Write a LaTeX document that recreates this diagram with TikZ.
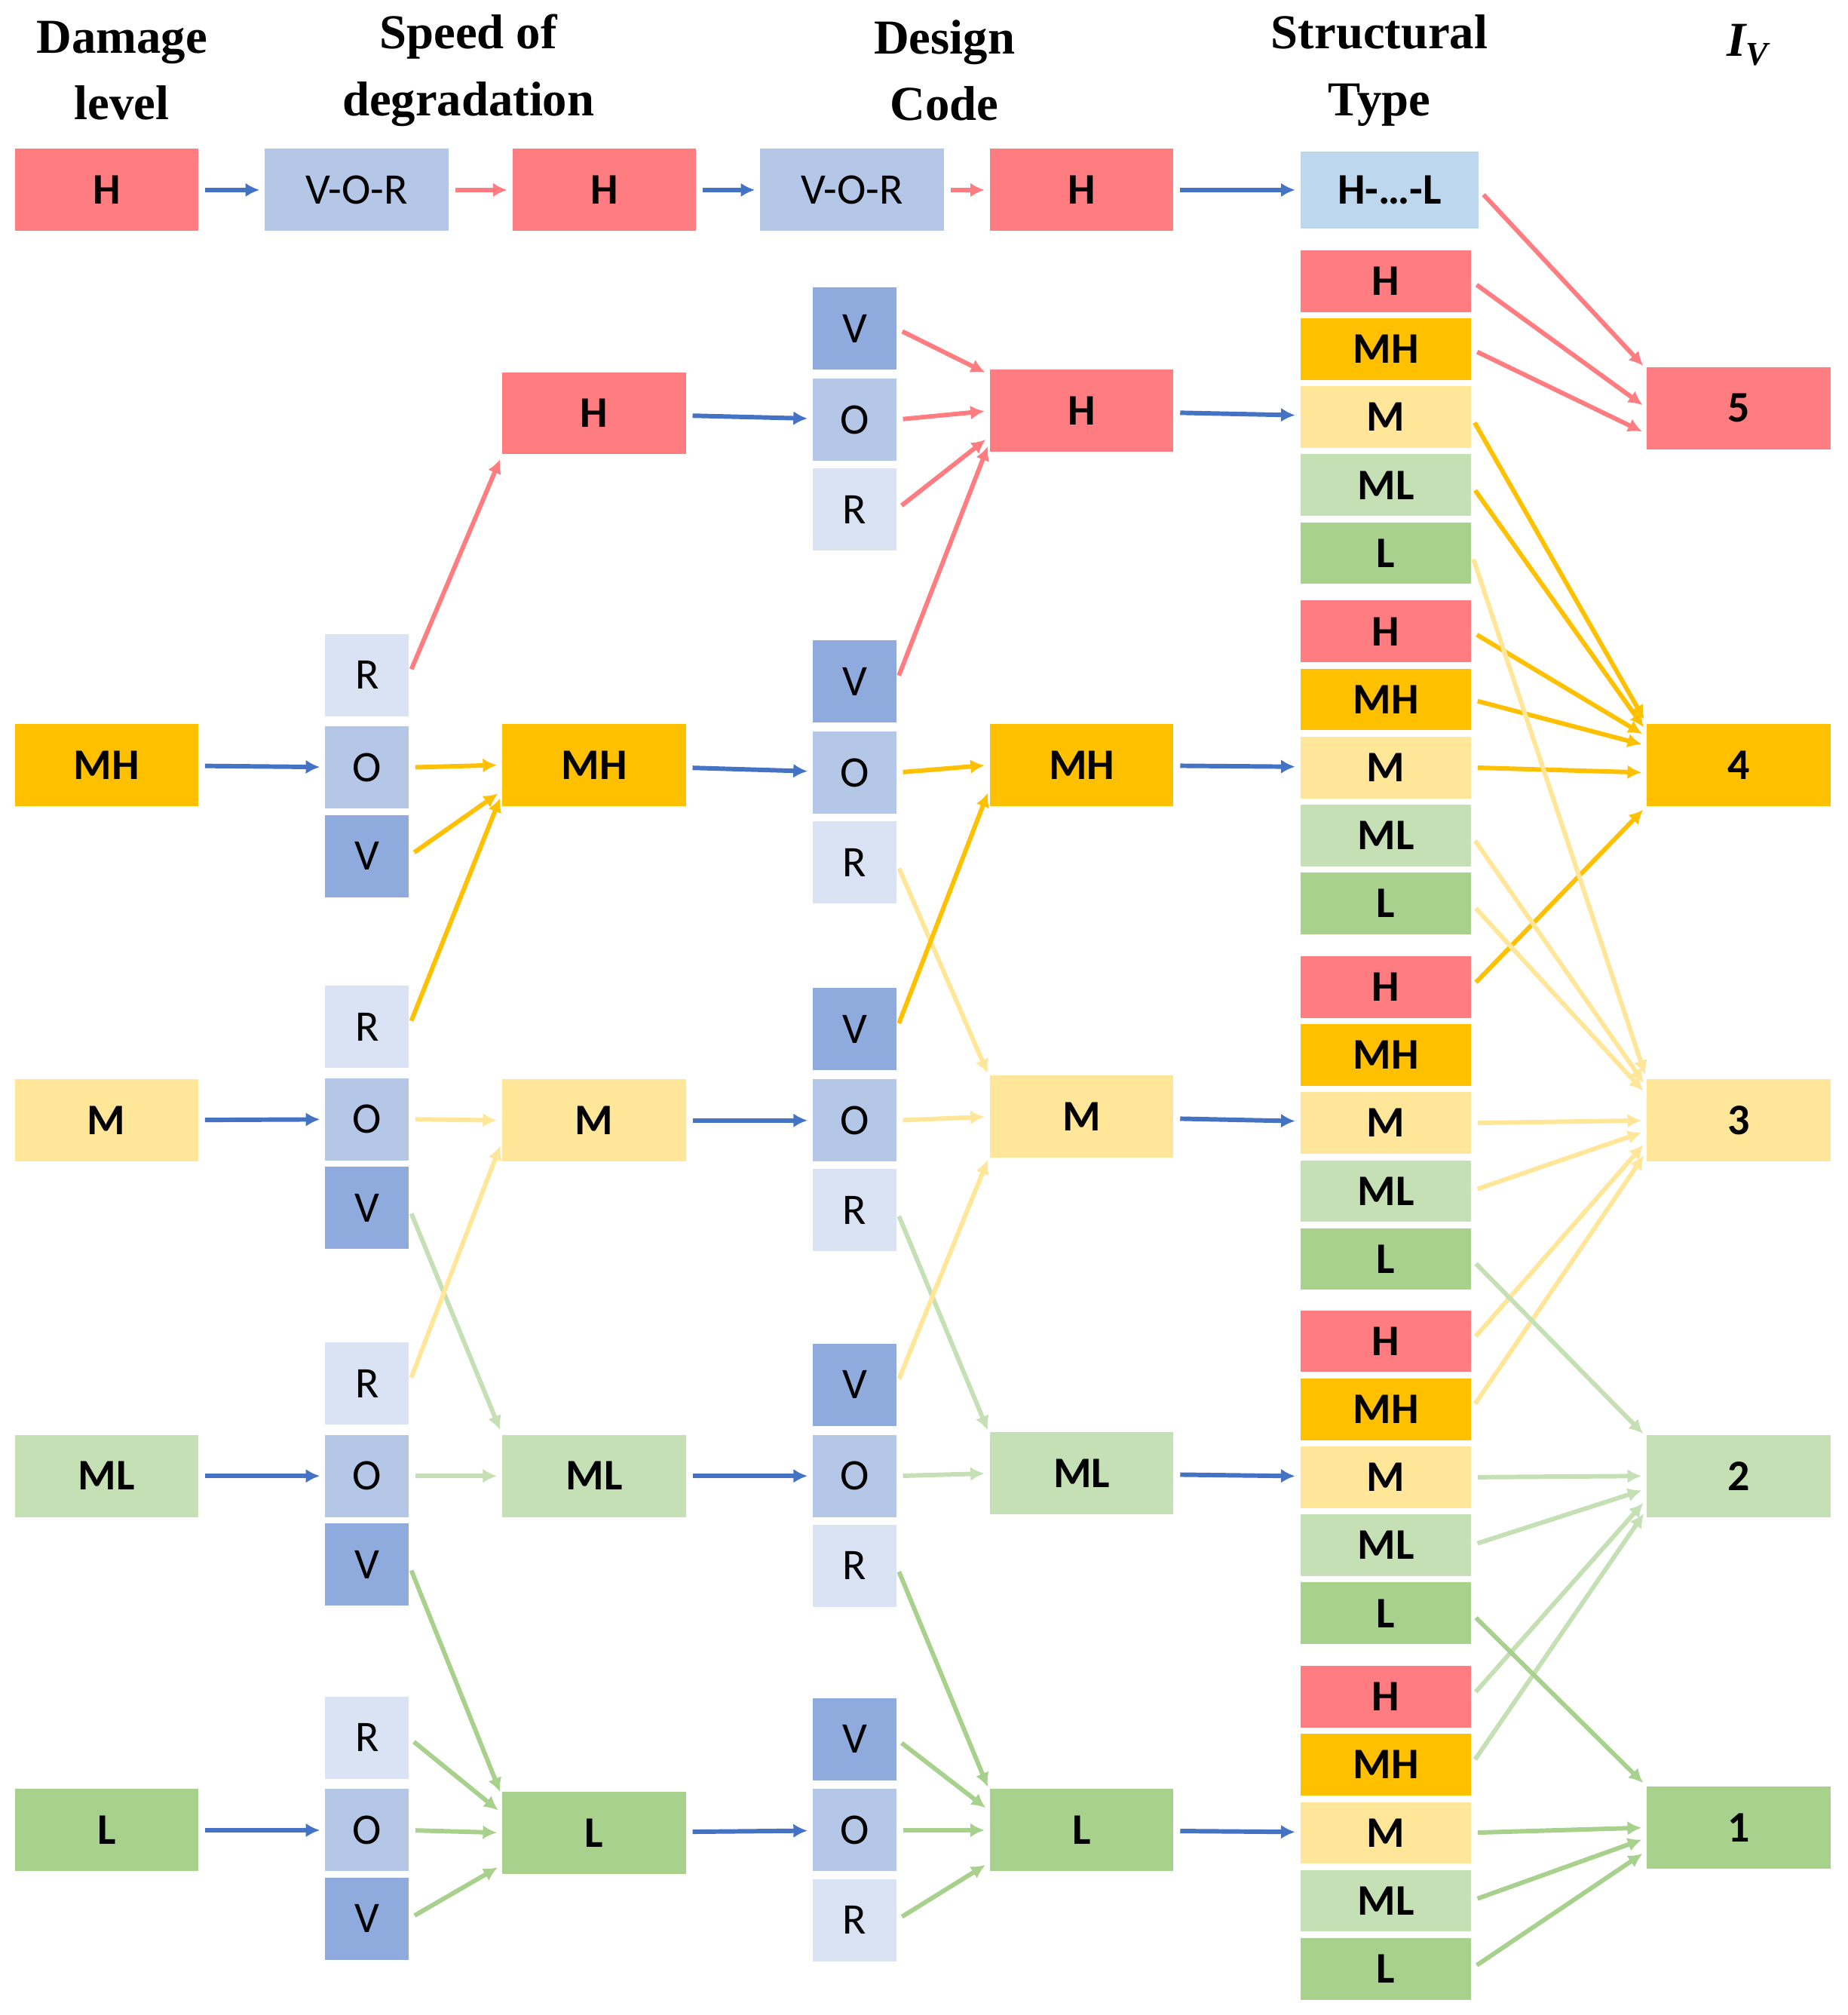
\documentclass[tikz,border=0pt]{standalone}
\usepackage{fontspec}
\newfontfamily\boxf{Carlito}
\newfontfamily\headf{Liberation Serif}
\usetikzlibrary{arrows.meta,calc}
\definecolor{cH}{HTML}{FF7C80}
\definecolor{cMH}{HTML}{FFC000}
\definecolor{cM}{HTML}{FFE699}
\definecolor{cML}{HTML}{C5E0B4}
\definecolor{cL}{HTML}{A9D18E}
\definecolor{cV}{HTML}{8FAADC}
\definecolor{cO}{HTML}{B4C7E7}
\definecolor{cR}{HTML}{DAE3F3}
\definecolor{cT}{HTML}{BDD7EE}
\definecolor{cB}{HTML}{4472C4}
\begin{document}
\begin{tikzpicture}[x=1pt,y=-1pt,
  big/.style={minimum width=143pt,minimum height=64pt,inner sep=0pt,font=\boxf\bfseries\fontsize{34}{40}\selectfont},
  sm/.style={minimum width=65pt,minimum height=64pt,inner sep=0pt,font=\boxf\fontsize{34}{40}\selectfont},
  st/.style={minimum width=133pt,minimum height=48pt,inner sep=0pt,font=\boxf\bfseries\fontsize{34}{40}\selectfont},
  hd/.style={align=center,font=\headf\bfseries\fontsize{38}{52}\selectfont},
  ar/.style={draw=#1,line width=3.5pt,-{Latex[length=11pt,width=11pt]},shorten <=5pt,shorten >=4pt}]
\useasboundingbox (0,0) rectangle (1440,1570);
% headers
\node[hd] (h1) at (95,55) {Damage\\level};
\node[hd] (h2) at (365,55) {Speed of\\degradation};
\node[hd] (h3) at (736,55) {Design\\Code};
\node[hd] (h4) at (1075,55) {Structural\\Type};
\node[hd] (h5) at (1362,35) {\itshape I\raisebox{-7pt}{\fontsize{26}{26}\selectfont V}};
% top row
\node[big,fill=cH] (A1) at (83,148) {H};
\node[big,fill=cO,font=\boxf\fontsize{34}{40}\selectfont] (T1) at (278,148) {V-O-R};
\node[big,fill=cH] (T2) at (471,148) {H};
\node[big,fill=cO,font=\boxf\fontsize{34}{40}\selectfont] (T3) at (664,148) {V-O-R};
\node[big,fill=cH] (T4) at (843,148) {H};
\node[st,fill=cT,minimum width=139pt,minimum height=60pt] (T5) at (1083,148) {H-…-L};
% column A
\foreach \n/\y/\c in {2/596/MH,3/873/M,4/1150/ML,5/1426/L}
  \node[big,fill=c\c] (A\n) at (83,\y) {\c};
% column B
\foreach \n/\y in {2/598,3/872,4/1150,5/1426}{
  \node[sm,fill=cR] (B\n R) at (286,\y-72) {R};
  \node[sm,fill=cO] (B\n O) at (286,\y) {O};
  \node[sm,fill=cV] (B\n V) at (286,\y+69) {V};
}
% column C
\foreach \n/\y/\c in {1/322/H,2/596/MH,3/873/M,4/1150/ML,5/1428/L}
  \node[big,fill=c\c] (C\n) at (463,\y) {\c};
% column D
\foreach \n/\y in {1/327,2/602,3/873,4/1150,5/1426}{
  \node[sm,fill=cV] (D\n V) at (666,\y-71) {V};
  \node[sm,fill=cO] (D\n O) at (666,\y) {O};
  \node[sm,fill=cR] (D\n R) at (666,\y+70) {R};
}
% column E
\foreach \n/\y/\c in {1/320/H,2/596/MH,3/870/M,4/1148/ML,5/1426/L}
  \node[big,fill=c\c] (E\n) at (843,\y) {\c};
% column F
\foreach \n/\y in {1/325,2/598,3/875,4/1151,5/1428}{
  \foreach \k/\o/\c in {1/-106/H,2/-53/MH,3/0/M,4/53/ML,5/106/L}
    \node[st,fill=c\c] (F\n\k) at (1080,\y+\o) {\c};
}
% column G
\foreach \n/\y/\c in {5/318/H,4/596/MH,3/873/M,2/1150/ML,1/1424/L}
  \node[big,fill=c\c] (G\n) at (1355,\y) {\n};
% top arrows
\draw[ar=cB] (A1) -- (T1);
\draw[ar=cH] (T1) -- (T2);
\draw[ar=cB] (T2) -- (T3);
\draw[ar=cH] (T3) -- (T4);
\draw[ar=cB] (T4) -- (T5);
\draw[ar=cH] (T5.east) -- ($(G5.west)+(0,-30)$);
% blue arrows
\foreach \n in {2,3,4,5} \draw[ar=cB] (A\n) -- (B\n O);
\foreach \n in {1,2,3,4,5} {\draw[ar=cB] (C\n) -- (D\n O); \draw[ar=cB] (E\n) -- (F\n3);}
% B -> C
\draw[ar=cH] (B2R.east) -- (C1.south west);
\draw[ar=cMH] (B2O.east) -- (C2.west);
\draw[ar=cMH] (B2V.east) -- ($(C2.west)+(0,20)$);
\draw[ar=cMH] (B3R.east) -- ($(C2.west)+(0,22)$);
\draw[ar=cM] (B3O.east) -- (C3.west);
\draw[ar=cML] (B3V.east) -- (C4.north west);
\draw[ar=cM] (B4R.east) -- ($(C3.west)+(0,16)$);
\draw[ar=cML] (B4O.east) -- (C4.west);
\draw[ar=cL] (B4V.east) -- ($(C5.west)+(0,-28)$);
\draw[ar=cL] (B5R.east) -- ($(C5.west)+(0,-15)$);
\draw[ar=cL] (B5O.east) -- (C5.west);
\draw[ar=cL] (B5V.east) -- ($(C5.west)+(0,25)$);
% D -> E
\draw[ar=cH] (D1V.east) -- ($(E1.west)+(0,-28)$);
\draw[ar=cH] (D1O.east) -- (E1.west);
\draw[ar=cH] (D1R.east) -- ($(E1.west)+(0,20)$);
\draw[ar=cH] (D2V.east) -- ($(E1.west)+(0,24)$);
\draw[ar=cMH] (D2O.east) -- (E2.west);
\draw[ar=cM] (D2R.east) -- ($(E3.west)+(0,-30)$);
\draw[ar=cMH] (D3V.east) -- ($(E2.west)+(0,18)$);
\draw[ar=cM] (D3O.east) -- (E3.west);
\draw[ar=cML] (D3R.east) -- ($(E4.west)+(0,-30)$);
\draw[ar=cM] (D4V.east) -- ($(E3.west)+(0,30)$);
\draw[ar=cML] (D4O.east) -- (E4.west);
\draw[ar=cL] (D4R.east) -- ($(E5.west)+(0,-30)$);
\draw[ar=cL] (D5V.east) -- ($(E5.west)+(0,-15)$);
\draw[ar=cL] (D5O.east) -- (E5.west);
\draw[ar=cL] (D5R.east) -- ($(E5.west)+(0,25)$);
% F -> G
\draw[ar=cH] (F11.east) -- ($(G5.west)+(0,0)$);
\draw[ar=cH] (F12.east) -- ($(G5.west)+(0,20)$);
\draw[ar=cMH] (F13.east) -- ($(G4.west)+(0,-32)$);
\draw[ar=cMH] (F14.east) -- ($(G4.west)+(0,-26)$);
\draw[ar=cMH] (F21.east) -- ($(G4.west)+(0,-22)$);
\draw[ar=cMH] (F22.east) -- ($(G4.west)+(0,-15)$);
\draw[ar=cMH] (F23.east) -- ($(G4.west)+(0,6)$);
\draw[ar=cMH] (F31.east) -- ($(G4.west)+(0,32)$);
\draw[ar=cM] (F15.east) -- ($(G3.west)+(0,-32)$);
\draw[ar=cM] (F24.east) -- ($(G3.west)+(0,-26)$);
\draw[ar=cM] (F25.east) -- ($(G3.west)+(0,-20)$);
\draw[ar=cM] (F33.east) -- ($(G3.west)+(0,0)$);
\draw[ar=cM] (F34.east) -- ($(G3.west)+(0,8)$);
\draw[ar=cM] (F41.east) -- ($(G3.west)+(0,16)$);
\draw[ar=cM] (F42.east) -- ($(G3.west)+(0,24)$);
\draw[ar=cML] (F35.east) -- ($(G2.west)+(0,-30)$);
\draw[ar=cML] (F43.east) -- ($(G2.west)+(0,0)$);
\draw[ar=cML] (F44.east) -- ($(G2.west)+(0,10)$);
\draw[ar=cML] (F51.east) -- ($(G2.west)+(0,18)$);
\draw[ar=cML] (F52.east) -- ($(G2.west)+(0,26)$);
\draw[ar=cL] (F45.east) -- ($(G1.west)+(0,-32)$);
\draw[ar=cL] (F53.east) -- ($(G1.west)+(0,0)$);
\draw[ar=cL] (F54.east) -- ($(G1.west)+(0,8)$);
\draw[ar=cL] (F55.east) -- ($(G1.west)+(0,18)$);
\end{tikzpicture}
\end{document}
